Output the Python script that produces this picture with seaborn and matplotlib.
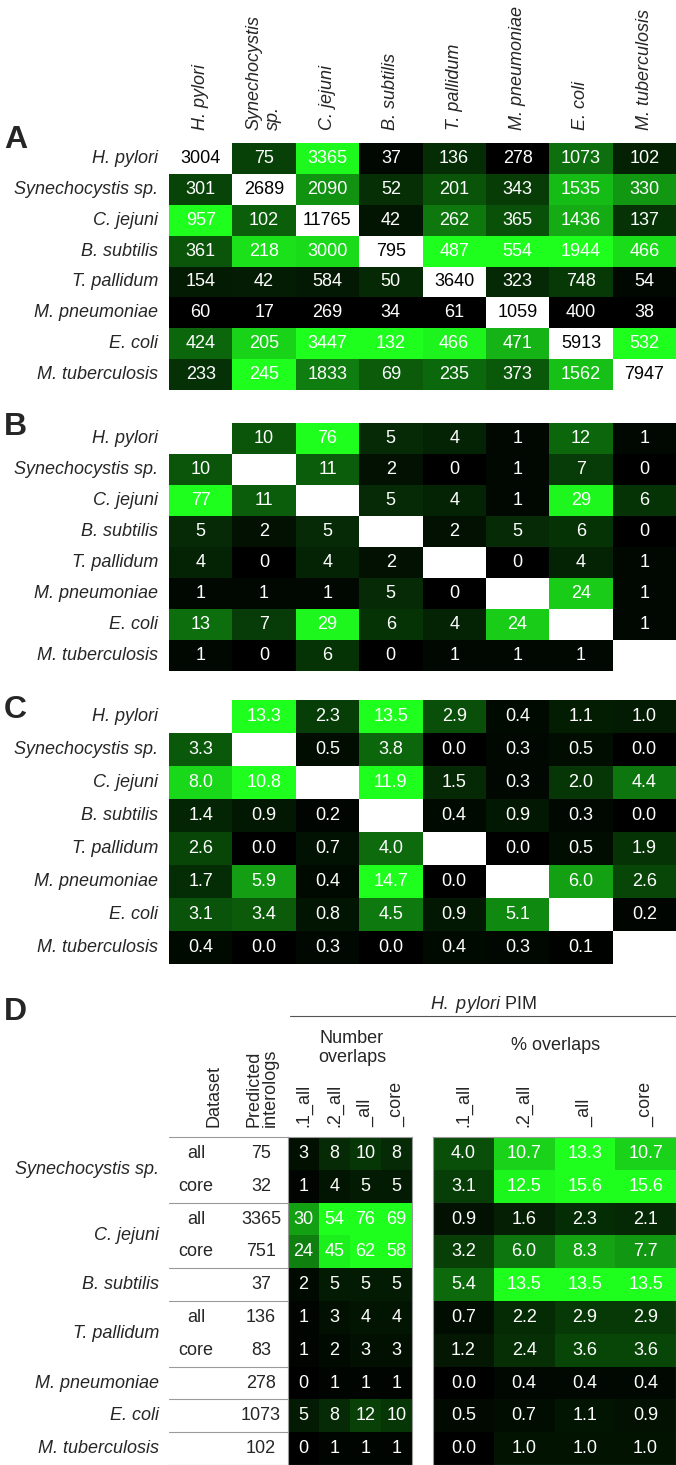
import numpy as np
import pandas as pd
import matplotlib
matplotlib.use('Agg')
import matplotlib.pyplot as plt
import seaborn as sns
from matplotlib.colors import LinearSegmentedColormap
from matplotlib.lines import Line2D
from matplotlib.transforms import blended_transform_factory

# --- data ---
species = ['H. pylori', 'Synechocystis sp.', 'C. jejuni', 'B. subtilis',
           'T. pallidum', 'M. pneumoniae', 'E. coli', 'M. tuberculosis']
col_labels = ['H. pylori', 'Synechocystis\nsp.', 'C. jejuni', 'B. subtilis',
              'T. pallidum', 'M. pneumoniae', 'E. coli', 'M. tuberculosis']

# A: predicted interologs (diagonal = own PIM size)
counts_a = [
    [3004, 75, 3365, 37, 136, 278, 1073, 102],
    [301, 2689, 2090, 52, 201, 343, 1535, 330],
    [957, 102, 11765, 42, 262, 365, 1436, 137],
    [361, 218, 3000, 795, 487, 554, 1944, 466],
    [154, 42, 584, 50, 3640, 323, 748, 54],
    [60, 17, 269, 34, 61, 1059, 400, 38],
    [424, 205, 3447, 132, 466, 471, 5913, 532],
    [233, 245, 1833, 69, 235, 373, 1562, 7947],
]

# B: number of overlaps
overlaps_b = [
    [None, 10, 76, 5, 4, 1, 12, 1],
    [10, None, 11, 2, 0, 1, 7, 0],
    [77, 11, None, 5, 4, 1, 29, 6],
    [5, 2, 5, None, 2, 5, 6, 0],
    [4, 0, 4, 2, None, 0, 4, 1],
    [1, 1, 1, 5, 0, None, 24, 1],
    [13, 7, 29, 6, 4, 24, None, 1],
    [1, 0, 6, 0, 1, 1, 1, None],
]

# C: % overlaps
percent_c = [
    [None, 13.3, 2.3, 13.5, 2.9, 0.4, 1.1, 1.0],
    [3.3, None, 0.5, 3.8, 0.0, 0.3, 0.5, 0.0],
    [8.0, 10.8, None, 11.9, 1.5, 0.3, 2.0, 4.4],
    [1.4, 0.9, 0.2, None, 0.4, 0.9, 0.3, 0.0],
    [2.6, 0.0, 0.7, 4.0, None, 0.0, 0.5, 1.9],
    [1.7, 5.9, 0.4, 14.7, 0.0, None, 6.0, 2.6],
    [3.1, 3.4, 0.8, 4.5, 0.9, 5.1, None, 0.2],
    [0.4, 0.0, 0.3, 0.0, 0.4, 0.3, 0.1, None],
]

# D: overlap with H. pylori PIM
d_cols = ['.1_all', '.2_all', '_all', '_core']
d_row_species = ['Synechocystis sp.', 'Synechocystis sp.', 'C. jejuni', 'C. jejuni',
                 'B. subtilis', 'T. pallidum', 'T. pallidum', 'M. pneumoniae',
                 'E. coli', 'M. tuberculosis']
d_dataset = ['all', 'core', 'all', 'core', '', 'all', 'core', '', '', '']
d_predicted = [75, 32, 3365, 751, 37, 136, 83, 278, 1073, 102]
d_number = [[3, 8, 10, 8], [1, 4, 5, 5], [30, 54, 76, 69], [24, 45, 62, 58],
            [2, 5, 5, 5], [1, 3, 4, 4], [1, 2, 3, 3], [0, 1, 1, 1],
            [5, 8, 12, 10], [0, 1, 1, 1]]
d_percent = [[4.0, 10.7, 13.3, 10.7], [3.1, 12.5, 15.6, 15.6], [0.9, 1.6, 2.3, 2.1],
             [3.2, 6.0, 8.3, 7.7], [5.4, 13.5, 13.5, 13.5], [0.7, 2.2, 2.9, 2.9],
             [1.2, 2.4, 3.6, 3.6], [0.0, 0.4, 0.4, 0.4], [0.5, 0.7, 1.1, 0.9],
             [0.0, 1.0, 1.0, 1.0]]

# --- style ---
W, H = 676, 1465
FS = 13
sns.set_style('white')
plt.rcParams['font.family'] = ['Liberation Sans', 'DejaVu Sans']
plt.rcParams['mathtext.fontset'] = 'custom'
plt.rcParams['mathtext.it'] = 'Liberation Sans:italic'
plt.rcParams['mathtext.rm'] = 'Liberation Sans'

green = LinearSegmentedColormap.from_list('blackgreen', ['#000000', '#1eff1e'])

fig = plt.figure(figsize=(W / 100, H / 100), dpi=100)


def add_ax(left, top, right, bottom):
    # pixel box -> figure fraction
    return fig.add_axes([left / W, 1 - bottom / H, (right - left) / W, (bottom - top) / H])


def panel_letter(letter, y):
    fig.text(4 / W, 1 - y / H, letter, fontsize=23, fontweight='bold',
             ha='left', va='center')


def matrix_panel(values, top, bottom, fmt, vmax=None, own_diag=False):
    df = pd.DataFrame(values, index=species, columns=species, dtype=float)
    diag = np.eye(len(species), dtype=bool)
    if vmax is None:
        # colour scaled per column (diagonal left out)
        off = df.mask(diag)
        shade = (off - off.min()) / (off.max() - off.min())
        vmax = 1
    else:
        shade = df
    ax = add_ax(169, top, 676, bottom)
    sns.heatmap(shade, mask=diag, annot=df.values, fmt=fmt, cmap=green,
                vmin=0, vmax=vmax, cbar=False, ax=ax,
                annot_kws={'color': 'white', 'fontsize': FS})
    if own_diag:
        for i, name in enumerate(species):
            ax.text(i + 0.5, i + 0.5, f'{df.loc[name, name]:.0f}', color='black',
                    ha='center', va='center', fontsize=FS)
    ax.set_yticklabels(species, rotation=0, fontstyle='italic', fontsize=FS)
    ax.tick_params(axis='y', length=0, pad=8)
    ax.set_xticks([])
    return ax


# ===== A =====
ax_a = matrix_panel(counts_a, 143, 390, '.0f', own_diag=True)
ax_a.xaxis.tick_top()
ax_a.set_xticks(np.arange(len(species)) + 0.5)
ax_a.set_xticklabels(col_labels, rotation=90, fontstyle='italic', fontsize=FS)
for t in ax_a.get_xticklabels():
    t.set_multialignment('left')
ax_a.tick_params(axis='x', length=0, pad=9)
panel_letter('A', 140)

# ===== B =====
matrix_panel(overlaps_b, 423, 671, '.0f', vmax=30)
panel_letter('B', 427)

# ===== C =====
matrix_panel(percent_c, 700, 964, '.1f', vmax=9.5)
panel_letter('C', 710)

# ===== D =====
panel_letter('D', 1012)
top_d, bot_d = 1137, 1465
num_ax = add_ax(288, top_d, 412, bot_d)
pct_ax = add_ax(433, top_d, 676, bot_d)

sns.heatmap(pd.DataFrame(d_number, columns=d_cols), annot=True, fmt='d', cmap=green,
            vmin=0, vmax=48, cbar=False, ax=num_ax,
            annot_kws={'color': 'white', 'fontsize': FS})
sns.heatmap(pd.DataFrame(d_percent, columns=d_cols), annot=True, fmt='.1f', cmap=green,
            vmin=0, vmax=13, cbar=False, ax=pct_ax,
            annot_kws={'color': 'white', 'fontsize': FS})

for ax in (num_ax, pct_ax):
    ax.xaxis.tick_top()
    ax.set_xticklabels(d_cols, rotation=90, fontsize=FS)
    ax.tick_params(axis='x', length=0, pad=7)
    ax.set_yticks([])
    for s in ax.spines.values():
        s.set_visible(True)
        s.set_color('#9a9a9a')
        s.set_linewidth(0.8)

trans = blended_transform_factory(fig.transFigure, num_ax.transData)
for i, (ds, pred) in enumerate(zip(d_dataset, d_predicted)):
    num_ax.text(196 / W, i + 0.5, ds, transform=trans, ha='center', va='center', fontsize=FS)
    num_ax.text(261 / W, i + 0.5, str(pred), transform=trans, ha='center', va='center', fontsize=FS)

# species labels centred on their group of rows, with rules between groups
bounds = [0]
for i in range(1, len(d_row_species)):
    if d_row_species[i] != d_row_species[i - 1]:
        bounds.append(i)
bounds.append(len(d_row_species))
for b0, b1 in zip(bounds[:-1], bounds[1:]):
    num_ax.text(159 / W, (b0 + b1) / 2, d_row_species[b0], transform=trans,
                ha='right', va='center', fontsize=FS, fontstyle='italic')
for b in bounds:
    num_ax.plot([169 / W, 288 / W], [b, b], transform=trans, color='#9a9a9a',
                lw=0.8, clip_on=False)

# headers
fig.text(483 / W, 1 - 1015 / H, r'$\it{H.\ pylori}$ PIM', ha='center', va='bottom', fontsize=FS)
fig.add_artist(Line2D([290 / W, 1], [1 - 1016 / H] * 2, color='#555555', lw=0.8))
fig.text(352 / W, 1 - 1048 / H, 'Number\noverlaps', ha='center', va='center',
         multialignment='center', fontsize=FS, linespacing=1.15)
fig.text(556 / W, 1 - 1045 / H, '% overlaps', ha='center', va='center', fontsize=FS)
fig.text(214 / W, 1 - 1127 / H, 'Dataset', rotation=90, ha='center', va='bottom', fontsize=FS)
fig.text(262 / W, 1 - 1127 / H, 'Predicted\ninterologs', rotation=90, ha='center',
         va='bottom', multialignment='left', fontsize=FS, linespacing=1.0)

fig.savefig('out.png', dpi=100)
